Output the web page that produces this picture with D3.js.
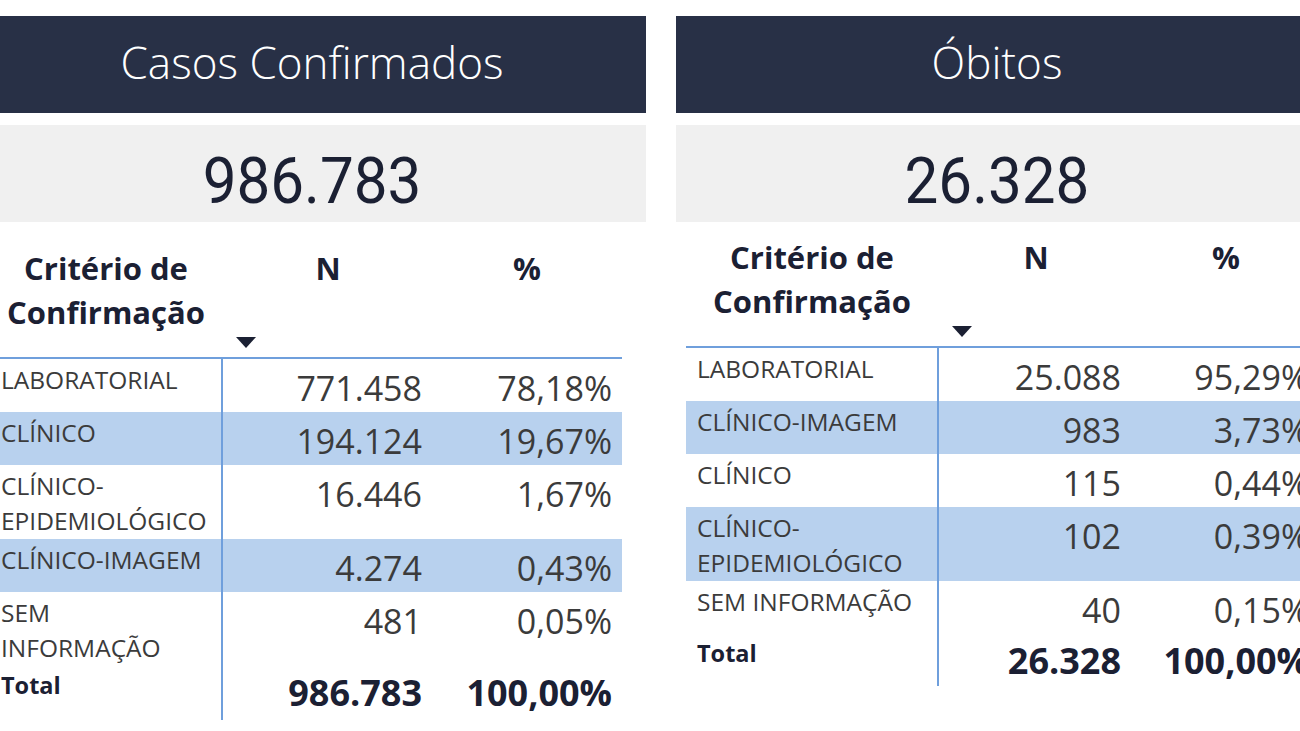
<!DOCTYPE html>
<html><head><meta charset="utf-8">
<script src="https://cdn.jsdelivr.net/npm/d3@7"></script>
<style>html,body{margin:0;padding:0;background:#fff;overflow:hidden}</style>
</head><body><svg id="c" width="1300" height="731"></svg>
<script>
// ---- data ----
const casosTitle = "Casos Confirmados";
const casosTotal = 986783;
const casosCategories = ["LABORATORIAL", "CLÍNICO", "CLÍNICO-\nEPIDEMIOLÓGICO", "CLÍNICO-IMAGEM", "SEM\nINFORMAÇÃO"];
const casosN = [771458, 194124, 16446, 4274, 481];
const casosPct = [78.18, 19.67, 1.67, 0.43, 0.05];

const obitosTitle = "Óbitos";
const obitosTotal = 26328;
const obitosCategories = ["LABORATORIAL", "CLÍNICO-IMAGEM", "CLÍNICO", "CLÍNICO-\nEPIDEMIOLÓGICO", "SEM INFORMAÇÃO"];
const obitosN = [25088, 983, 115, 102, 40];
const obitosPct = [95.29, 3.73, 0.44, 0.39, 0.15];

const headerLabels = ["Critério de\nConfirmação", "N", "%"];
const totalLabel = "Total";
const totalPct = 100;

// ---- formatting ----
const loc = d3.formatLocale({decimal: ",", thousands: ".", grouping: [3], currency: ["R$", ""]});
const fmtN = loc.format(",d");
const fmtP = v => loc.format(",.2f")(v) + "%";

const svg = d3.select("#c");
svg.append("rect").attr("width", 1300).attr("height", 731).attr("fill", "#fff");

const NAVY = "#283046", GRAYBG = "#f0f0f0", BAND = "#b8d1ee", LINE = "#6f9fdc", TXT = "#3b3b3b", DARK = "#1b2033";
const FONT = "'Open Sans', sans-serif";

const panels = [
  {title: casosTitle, total: casosTotal, cats: casosCategories, n: casosN, pct: casosPct,
   x0: 0, x1: 646, titleCx: 312, lineY: 358, lineX0: 0, lineX1: 622, vX: 222, vEnd: 720,
   labelX: 1, nRight: 422, pRight: 612, hCrit: 106, hN: 328, hP: 527, triX: 246},
  {title: obitosTitle, total: obitosTotal, cats: obitosCategories, n: obitosN, pct: obitosPct,
   x0: 676, x1: 1310, titleCx: 997, lineY: 347, lineX0: 686, lineX1: 1310, vX: 938, vEnd: 686,
   labelX: 697, nRight: 1121, pRight: 1309, hCrit: 812, hN: 1036, hP: 1226, triX: 962}
];

const ONE = 53, EXTRA = 21; // row height for single line, extra per additional line
const LINEH = 35;

panels.forEach(p => {
  const g = svg.append("g");
  // title bar
  g.append("rect").attr("x", p.x0).attr("y", 16).attr("width", p.x1 - p.x0).attr("height", 97).attr("fill", NAVY);
  g.append("text").attr("x", p.titleCx).attr("y", 79).attr("text-anchor", "middle")
    .attr("font-family", FONT).attr("font-weight", 300).attr("font-size", 44)
    .attr("fill", "#fff").text(p.title);
  // KPI box
  g.append("rect").attr("x", p.x0).attr("y", 125).attr("width", p.x1 - p.x0).attr("height", 97).attr("fill", GRAYBG);
  g.append("text").attr("transform", `translate(${p.titleCx},203) scale(0.94,1)`).attr("text-anchor", "middle")
    .attr("font-family", "Roboto, sans-serif").attr("font-weight", 400).attr("font-size", 64)
    .attr("fill", DARK).text(fmtN(p.total));

  // rows with cumulative y via linear scale
  const lines = p.cats.map(c => c.split("\n").length);
  const units = lines.map(l => ONE + EXTRA * (l - 1));
  const tops = [0]; units.forEach((u, i) => tops.push(tops[i] + u));
  const y = d3.scaleLinear().domain([0, 1]).range([p.lineY + 1, p.lineY + 2]);

  // bands
  p.cats.forEach((c, i) => {
    if (i % 2 === 1) {
      g.append("rect").attr("x", p.lineX0).attr("y", y(tops[i])).attr("width", p.lineX1 - p.lineX0)
        .attr("height", units[i]).attr("fill", BAND);
    }
  });

  // header
  const hdr = g.append("g").attr("font-family", FONT).attr("font-weight", 700)
    .attr("font-size", 31).attr("fill", DARK).attr("text-anchor", "middle");
  headerLabels[0].split("\n").forEach((t, k) => {
    hdr.append("text").attr("x", p.hCrit).attr("y", p.lineY - 78 + k * 44).text(t);
  });
  hdr.append("text").attr("x", p.hN).attr("y", p.lineY - 78).text(headerLabels[1]);
  hdr.append("text").attr("x", p.hP).attr("y", p.lineY - 78).text(headerLabels[2]);
  // sort triangle
  g.append("path").attr("d", `M${p.triX - 10},${p.lineY - 21}L${p.triX + 10},${p.lineY - 21}L${p.triX},${p.lineY - 10}Z`).attr("fill", DARK);

  // labels and values
  p.cats.forEach((c, i) => {
    const top = y(tops[i]);
    c.split("\n").forEach((t, k) => {
      g.append("text").attr("x", p.labelX).attr("y", top + 30 + k * LINEH)
        .attr("font-family", FONT).attr("font-size", 24.5).attr("fill", TXT).text(t);
    });
    g.append("text").attr("x", p.nRight).attr("y", top + 42).attr("text-anchor", "end")
      .attr("font-family", FONT).attr("font-size", 34).attr("fill", TXT).text(fmtN(p.n[i]));
    g.append("text").attr("x", p.pRight).attr("y", top + 42).attr("text-anchor", "end")
      .attr("font-family", FONT).attr("font-size", 34).attr("fill", TXT).text(fmtP(p.pct[i]));
  });
  // total row
  const tTop = y(tops[tops.length - 1]);
  g.append("text").attr("x", p.labelX).attr("y", tTop + 28)
    .attr("font-family", FONT).attr("font-weight", 700).attr("font-size", 23.5).attr("fill", DARK).text(totalLabel);
  g.append("text").attr("x", p.nRight).attr("y", tTop + 40).attr("text-anchor", "end")
    .attr("font-family", FONT).attr("font-weight", 700).attr("font-size", 36).attr("fill", DARK).text(fmtN(p.total));
  g.append("text").attr("x", p.pRight).attr("y", tTop + 40).attr("text-anchor", "end")
    .attr("font-family", FONT).attr("font-weight", 700).attr("font-size", 36).attr("fill", DARK).text(fmtP(totalPct));

  // grid lines
  g.append("line").attr("x1", p.lineX0).attr("x2", p.lineX1).attr("y1", p.lineY).attr("y2", p.lineY)
    .attr("stroke", LINE).attr("stroke-width", 2);
  g.append("line").attr("x1", p.vX).attr("x2", p.vX).attr("y1", p.lineY).attr("y2", p.vEnd)
    .attr("stroke", LINE).attr("stroke-width", 2);
});
</script></body></html>
